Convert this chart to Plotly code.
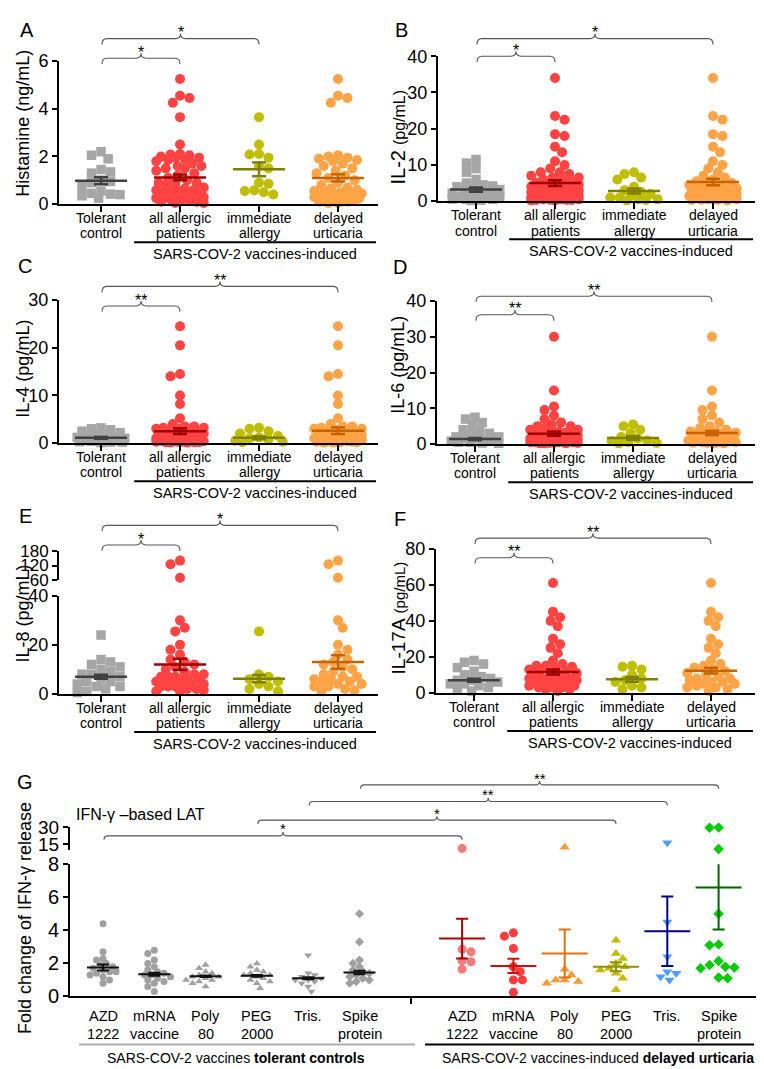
import plotly.graph_objects as go

W, H = 764, 1069
FONT = "Liberation Sans, Arial, Helvetica, sans-serif"

# ---------------- shared text ----------------
group_lines = [["Tolerant", "control"], ["all allergic", "patients"],
               ["immediate", "allergy"], ["delayed", "urticaria"]]
group_caption = "SARS-COV-2 vaccines-induced"

# ---------------- A: Histamine (ng/mL) ----------------
hist_tolerant = [2.2, 2.05, 1.9, 1.45, 1.35, 1.3, 1.0, 0.95, 0.9, 0.75, 0.55, 0.45, 0.42, 0.4, 0.35, 0.25]
hist_immediate = [3.65, 2.5, 2.1, 2.08, 1.95, 1.6, 1.5, 0.9, 0.85, 0.58, 0.55, 0.5, 0.4]
hist_delayed = [5.25, 4.55, 4.45, 4.25, 2.05, 2.0, 1.95, 1.9, 1.85, 1.8, 1.7, 1.6, 1.5, 1.4, 1.3,
                1.2, 1.1, 1.0, 0.9, 0.8, 0.7, 0.65, 0.6, 0.55, 0.5, 0.5, 0.45, 0.4, 0.4, 0.35,
                0.3, 0.3, 0.25, 0.2, 0.2, 0.15, 0.1, 0.1, 0.05, 0.05, 0.5, 0.45, 0.35, 0.3, 0.25]
hist_mean = [0.98, 1.12, 1.46, 1.10]
hist_sem = [0.15, 0.12, 0.29, 0.15]

# ---------------- B: IL-2 (pg/mL) ----------------
il2_tolerant = [11.5, 10.5, 9.0, 8.0, 6.0, 5.0, 4.5, 4.2, 4.0, 3.5, 3.2, 3.0, 2.5, 2.2, 2.0, 1.8,
                1.5, 1.2, 1.0, 1.0, 0.8, 0.6, 0.5, 0.5, 0.3, 0.2]
il2_immediate = [8.0, 7.5, 6.5, 6.0, 4.0, 3.0, 2.5, 2.0, 1.5, 1.0, 1.0, 0.5, 0.5, 0.3, 0.2]
il2_delayed = [34, 23.5, 22.5, 18.5, 18, 15, 13.5, 11, 10, 9, 8, 7, 6.5, 6, 5.5, 5, 5, 4.5, 4.5,
               4, 4, 3.5, 3.5, 3, 3, 3, 2.5, 2.5, 2.5, 2, 2, 2, 1.5, 1.5, 1.5, 1, 1, 1, 0.8,
               0.5, 0.5, 0.4, 0.3, 0.3, 0.2]
il2_mean = [3.2, 5.0, 2.8, 5.3]
il2_sem = [0.6, 0.8, 0.7, 0.9]

# ---------------- C: IL-4 (pg/mL) ----------------
il4_tolerant = [3.2, 3.0, 2.8, 2.5, 2.2, 2.0, 1.8, 1.5, 1.3, 1.2, 1.0, 0.9, 0.8, 0.6, 0.5, 0.4,
                0.3, 0.2, 0.2, 0.1]
il4_immediate = [3.2, 3.0, 2.5, 2.0, 1.5, 1.2, 1.0, 0.8, 0.5, 0.3, 0.2]
il4_delayed = [24.5, 20.5, 14.5, 14.0, 10.0, 8.2, 5.2, 4.0, 3.5, 3.5, 3.2, 3.0, 3.0, 2.8, 2.5,
               2.5, 2.2, 2.0, 2.0, 1.8, 1.5, 1.5, 1.2, 1.0, 1.0, 0.8, 0.8, 0.6, 0.5, 0.5, 0.4,
               0.3, 0.3, 0.2, 0.2, 0.1, 0.1]
il4_mean = [1.1, 2.5, 1.1, 2.6]
il4_sem = [0.2, 0.6, 0.3, 0.7]

# ---------------- D: IL-6 (pg/mL) ----------------
il6_tolerant = [7.5, 7.0, 6.0, 5.0, 4.0, 3.5, 3.0, 2.5, 2.0, 2.0, 1.5, 1.5, 1.0, 1.0, 0.8, 0.5,
                0.5, 0.3, 0.2]
il6_immediate = [5.5, 5.0, 4.0, 3.0, 2.0, 1.5, 1.0, 0.8, 0.5, 0.3, 0.2]
il6_delayed = [30, 15, 10.5, 9.5, 8.0, 7.0, 6.0, 5.0, 4.5, 4.0, 3.5, 3.5, 3.2, 3.0, 3.0, 2.8,
               2.5, 2.5, 2.2, 2.0, 2.0, 1.8, 1.5, 1.5, 1.2, 1.0, 1.0, 0.8, 0.6, 0.5, 0.5, 0.4,
               0.3, 0.2, 0.2]
il6_mean = [1.4, 2.9, 1.7, 3.1]
il6_sem = [0.3, 0.6, 0.5, 0.6]

# ---------------- E: IL-8 (pg/mL) ----------------
il8_tolerant = [24, 14, 13, 12, 11, 10, 9, 8, 8, 7, 6, 5, 5, 4, 3, 3, 2, 1, 0.5]
il8_immediate = [25.5, 8, 7, 6, 5, 4, 3, 2, 1]
il8_delayed = [140, 125, 70, 30, 27, 20, 18, 16, 14, 13, 12, 11, 10, 9, 8, 7, 7, 6, 6, 5, 5, 4,
               4, 3, 3, 2, 1.5, 1]
il8_mean = [7.0, 12.0, 6.2, 13.0]
il8_sem = [0.8, 2.3, 1.5, 2.8]

# ---------------- F: IL-17A (pg/mL) ----------------
il17_tolerant = [18, 17, 16, 14, 12, 10, 9, 8, 7, 7, 6, 5, 5, 4, 3, 2, 1]
il17_immediate = [15, 14.5, 13, 10, 8, 7, 6, 4, 3, 2]
il17_delayed = [61, 45, 42, 40, 37, 30, 27, 25, 22, 18, 16, 15, 14, 13, 12, 11, 10, 9, 8, 8, 7,
                6, 6, 5, 5, 4, 3, 3, 2, 1]
il17_mean = [7.0, 11.6, 7.5, 12.3]
il17_sem = [0.8, 1.4, 1.3, 1.6]

# ---------------- G: IFN-gamma based LAT (fold change) ----------------
lat_labels = [["AZD", "1222"], ["mRNA", "vaccine"], ["Poly", "80"], ["PEG", "2000"],
              ["Tris.", ""], ["Spike", "protein"]]
tol_azd = [4.4, 2.7, 2.3, 2.2, 2.0, 1.9, 1.8, 1.7, 1.6, 1.5, 1.5, 1.4, 1.3, 1.2, 1.0, 0.8]
tol_mrna = [2.8, 2.6, 2.2, 2.0, 1.8, 1.6, 1.5, 1.4, 1.3, 1.3, 1.2, 1.1, 1.0, 0.9, 0.8, 0.6, 0.3]
tol_poly = [1.9, 1.7, 1.5, 1.4, 1.3, 1.2, 1.2, 1.1, 1.0, 1.0, 0.9, 0.8, 0.6]
tol_peg = [2.0, 1.8, 1.6, 1.5, 1.4, 1.3, 1.3, 1.2, 1.1, 1.0, 0.9, 0.8, 0.5]
tol_tris = [2.5, 1.4, 1.3, 1.2, 1.1, 1.0, 1.0, 0.9, 0.8, 0.6, 0.3]
tol_spike = [5.0, 3.3, 2.2, 2.0, 1.8, 1.6, 1.5, 1.4, 1.3, 1.2, 1.1, 1.0, 0.9, 0.8]
urt_azd = [11, 2.85, 2.7, 2.15, 2.1, 1.65]
urt_mrna = [3.85, 3.65, 2.9, 1.8, 1.5, 1.0, 1.0, 0.25]
urt_poly = [12, 1.65, 1.3, 1.0, 1.0, 0.9, 0.8]
urt_peg = [3.4, 2.6, 2.3, 2.0, 1.8, 1.7, 1.6, 1.4, 1.1, 0.4]
urt_tris = [16, 4.5, 2.4, 1.5, 1.4, 1.2, 1.0]
urt_spike = [29.5, 29.3, 10.5, 5.0, 3.15, 3.1, 2.15, 1.9, 1.8, 1.75, 1.7, 1.15, 1.1]
lat_tol_mean = [1.75, 1.35, 1.22, 1.25, 1.1, 1.45]
lat_tol_sem = [0.18, 0.09, 0.05, 0.05, 0.06, 0.1]
lat_urt_mean = [3.5, 1.85, 2.6, 1.8, 3.95, 6.6]
lat_urt_sem = [1.2, 0.43, 1.45, 0.27, 2.1, 2.55]

# ---------------- styles ----------------
pt_colors = ["#a6a6a6", "#ff4343", "#bfbf00", "#ffa347"]
mean_colors = ["#404040", "#a00000", "#7f7f00", "#c86400"]
pt_symbols = ["square", "circle", "circle", "circle"]
urt_colors = ["#f77b7b", "#ff3b3b", "#ff9933", "#c2bc00", "#4d9fff", "#00cc00"]
urt_mean_colors = ["#b00000", "#d01010", "#e07010", "#8f8f00", "#000090", "#006400"]
lat_symbols = ["circle", "circle", "triangle-up", "triangle-up", "triangle-down", "diamond"]


def X(px):
    return px / W


def Y(py):
    return 1 - py / H


traces, shapes, annotations, layout_axes = [], [], [], {}


def text(t, x, y, size, xanchor="center", yanchor="middle", angle=0):
    annotations.append(dict(text=t, x=X(x), y=Y(y), xref="paper", yref="paper",
                            showarrow=False, xanchor=xanchor, yanchor=yanchor,
                            textangle=angle, font=dict(size=size, family=FONT, color="black")))


def hline(xa, xb, y, color="black", width=2):
    shapes.append(dict(type="line", xref="paper", yref="paper", x0=X(xa), x1=X(xb),
                       y0=Y(y), y1=Y(y), line=dict(color=color, width=width)))


def bracket(xl, xr, yb, stars, drop, peak, r, star_size, star_dy):
    xc = (xl + xr) / 2
    p = (f"M {X(xl)},{Y(yb + drop)} Q {X(xl)},{Y(yb)} {X(xl + r)},{Y(yb)} "
         f"L {X(xc - r)},{Y(yb)} Q {X(xc)},{Y(yb)} {X(xc)},{Y(yb - peak)} "
         f"Q {X(xc)},{Y(yb)} {X(xc + r)},{Y(yb)} L {X(xr - r)},{Y(yb)} "
         f"Q {X(xr)},{Y(yb)} {X(xr)},{Y(yb + drop)}")
    shapes.append(dict(type="path", xref="paper", yref="paper", path=p,
                       line=dict(color="#555555", width=1.1)))
    text(stars, xc, yb - star_dy, star_size)


def swarm(ypx, diam, maxw):
    n = len(ypx)
    order = sorted(range(n), key=lambda i: ypx[i])
    placed, offs = [], [0.0] * n
    step = diam / 4.0
    for k, i in enumerate(order):
        y = ypx[i]
        sgn = 1 if k % 2 == 0 else -1
        cands = [0.0]
        j = 1
        while j * step <= maxw:
            cands += [sgn * j * step, -sgn * j * step]
            j += 1
        chosen, best, bestd = None, None, -1
        for c in cands:
            dmin = min([((px - c) ** 2 + (py - y) ** 2) ** 0.5 for px, py in placed] or [1e9])
            if dmin >= diam * 0.92:
                chosen = c
                break
            if dmin > bestd:
                bestd, best = dmin, c
        if chosen is None:
            chosen = best
        placed.append((chosen, y))
        offs[i] = chosen
    return offs


counters = {"x": 0, "y": 0}


def ref(kind, n):
    return kind if n == 1 else f"{kind}{n}"


def make_axes(geo, ytickfont, xticks):
    counters["x"] += 1
    xi = counters["x"]
    x0, x1, c0, dc = geo["x0"], geo["x1"], geo["c0"], geo["dc"]
    yids = []
    for _ in geo["segs"]:
        counters["y"] += 1
        yids.append(counters["y"])
    layout_axes["xaxis" + ("" if xi == 1 else str(xi))] = dict(
        domain=[X(x0), X(x1)], range=[(x0 - c0) / dc, (x1 - c0) / dc], anchor=ref("y", yids[0]),
        showline=True, linewidth=2, linecolor="black", showgrid=False, zeroline=False,
        ticks="outside", ticklen=6, tickwidth=2, tickcolor="black", tickvals=xticks,
        showticklabels=False, fixedrange=True)
    for k, ((lo, hi, bot, top, tv), yi) in enumerate(zip(geo["segs"], yids)):
        layout_axes["yaxis" + ("" if yi == 1 else str(yi))] = dict(
            domain=[Y(bot), Y(top)], range=[lo, hi], anchor=ref("x", xi),
            showline=True, linewidth=2, linecolor="black", showgrid=False, zeroline=False,
            ticks="outside", ticklen=5, tickwidth=2, tickcolor="black", tickvals=tv,
            tickfont=dict(size=ytickfont if k == 0 else ytickfont - 1, family=FONT, color="black"),
            fixedrange=True)
    return ref("x", xi), [ref("y", y) for y in yids]


def seg_of(geo, v):
    for k, (lo, hi, bot, top, tv) in enumerate(geo["segs"]):
        if v <= hi:
            return k
    return len(geo["segs"]) - 1


def to_px(geo, v, k):
    lo, hi, bot, top, tv = geo["segs"][k]
    return bot - (v - lo) / (hi - lo) * (bot - top)


def add_points(geo, xr, yrs, gi, vals, color, symbol, size, diam, maxw):
    segs = [seg_of(geo, v) for v in vals]
    ypx = [to_px(geo, v, k) for v, k in zip(vals, segs)]
    offs = swarm(ypx, diam, maxw)
    for k in range(len(geo["segs"])):
        xs = [gi + o / geo["dc"] for o, s in zip(offs, segs) if s == k]
        ys = [v for v, s in zip(vals, segs) if s == k]
        if xs:
            traces.append(go.Scatter(x=xs, y=ys, xaxis=xr, yaxis=yrs[k], mode="markers",
                                     cliponaxis=False, hoverinfo="skip",
                                     marker=dict(color=color, symbol=symbol, size=size,
                                                 line=dict(width=0))))


def add_mean(geo, xr, yr, gi, m, s, color, hw, cw, width):
    h, c = hw / geo["dc"], cw / geo["dc"]
    traces.append(go.Scatter(
        x=[gi - h, gi + h, None, gi, gi, None, gi - c, gi + c, None, gi - c, gi + c],
        y=[m, m, None, m - s, m + s, None, m - s, m - s, None, m + s, m + s],
        xaxis=xr, yaxis=yr, mode="lines", hoverinfo="skip",
        line=dict(color=color, width=width)))


# ---------------- panels A-F ----------------
panels = [
    dict(letter="A", lpos=(19, 11), title="Histamine (ng/mL)", tpos=(15, 107),
         data=(hist_tolerant, hist_immediate, hist_delayed), mean=hist_mean, sem=hist_sem,
         geo=dict(x0=51, x1=370, c0=93, dc=79, segs=[(0, 6, 189, 43, [0, 2, 4, 6])]),
         br=[(0, 2, 20, "*"), (0, 1, 40, "*")]),
    dict(letter="B", lpos=(393, 11),
         title="<span style='font-size:20px'>IL-2</span> <span style='font-size:16px'>(pg/mL)</span>",
         tpos=(390, 121),
         data=(il2_tolerant, il2_immediate, il2_delayed), mean=il2_mean, sem=il2_sem,
         geo=dict(x0=430, x1=747, c0=468, dc=79, segs=[(0, 40, 186, 38, [0, 10, 20, 30, 40])]),
         br=[(0, 3, 20, "*"), (0, 1, 38, "*")]),
    dict(letter="C", lpos=(17, 252), title="IL-4 (pg/mL)", tpos=(15, 357),
         data=(il4_tolerant, il4_immediate, il4_delayed), mean=il4_mean, sem=il4_sem,
         geo=dict(x0=51, x1=370, c0=93, dc=79, segs=[(0, 30, 433, 287, [0, 10, 20, 30])]),
         br=[(0, 3, 273, "**"), (0, 1, 293, "**")]),
    dict(letter="D", lpos=(392, 253), title="IL-6 (pg/mL)", tpos=(390, 353),
         data=(il6_tolerant, il6_immediate, il6_delayed), mean=il6_mean, sem=il6_sem,
         geo=dict(x0=429, x1=747, c0=467, dc=79, segs=[(0, 40, 434, 288, [0, 10, 20, 30, 40])]),
         br=[(0, 3, 283, "**"), (0, 1, 302, "**")]),
    dict(letter="E", lpos=(17, 507), title="IL-8 (pg/mL)", tpos=(15, 607),
         data=(il8_tolerant, il8_immediate, il8_delayed), mean=il8_mean, sem=il8_sem,
         geo=dict(x0=51, x1=370, c0=93, dc=79,
                  segs=[(0, 40, 689, 589, [0, 20, 40]), (60, 180, 573, 543, [60, 120, 180])]),
         br=[(0, 3, 517, "*"), (0, 1, 537, "*")]),
    dict(letter="F", lpos=(392, 510),
         title="<span style='font-size:19px'>IL-17A</span> <span style='font-size:15px'>(pg/mL)</span>",
         tpos=(390, 612),
         data=(il17_tolerant, il17_immediate, il17_delayed), mean=il17_mean, sem=il17_sem,
         geo=dict(x0=428, x1=747, c0=466, dc=79, segs=[(0, 80, 688, 541, [0, 20, 40, 60, 80])]),
         br=[(0, 3, 530, "**"), (0, 1, 550, "**")]),
]

for p in panels:
    g = p["geo"]
    xr, yrs = make_axes(g, 18, [0, 1, 2, 3])
    tol, imm, dly = p["data"]
    groups = [(0, tol), (1, imm + dly), (2, imm), (3, dly)]
    for gi, vals in groups:
        add_points(g, xr, yrs, gi, vals, pt_colors[gi], pt_symbols[gi],
                   9.5 if gi == 0 else 10, 9.5, 26)
    for gi, vals in groups:
        add_mean(g, xr, yrs[0], gi, p["mean"][gi], p["sem"][gi], mean_colors[gi], 26, 7, 2.5)
    axis_y = g["segs"][0][2]
    text(p["letter"], p["lpos"][0], p["lpos"][1], 20)
    text(p["title"], p["tpos"][0], p["tpos"][1], 18, angle=-90)
    for i, (l1, l2) in enumerate(group_lines):
        cx = g["c0"] + i * g["dc"]
        text(l1, cx, axis_y + 14, 14)
        text(l2, cx, axis_y + 30, 14)
    ux0 = g["c0"] + 0.42 * g["dc"]
    ux1 = g["x1"] - 2
    hline(ux0, ux1, axis_y + 39)
    text(group_caption, (ux0 + ux1) / 2, axis_y + 51, 14.5)
    for a, b, yb, st in p["br"]:
        bracket(g["c0"] + a * g["dc"] + 1, g["c0"] + b * g["dc"], yb, st,
                drop=6, peak=5, r=5, star_size=16, star_dy=6)

# ---------------- panel G ----------------
geoG = dict(x0=62, x1=748, c0=95, dc=51.3,
            segs=[(0, 8, 998, 863, [0, 2, 4, 6, 8]), (10, 30, 848, 825, [15, 30])])
xG, yG = make_axes(geoG, 20, [6])
tol_sets = [tol_azd, tol_mrna, tol_poly, tol_peg, tol_tris, tol_spike]
urt_sets = [urt_azd, urt_mrna, urt_poly, urt_peg, urt_tris, urt_spike]
for i, vals in enumerate(tol_sets):
    add_points(geoG, xG, yG, i, vals, "#a0a0a0", lat_symbols[i], 7, 6.5, 20)
for i, vals in enumerate(urt_sets):
    add_points(geoG, xG, yG, 7 + i, vals, urt_colors[i], lat_symbols[i],
               8 if lat_symbols[i] == "diamond" else 9, 9, 20)
for i in range(6):
    add_mean(geoG, xG, yG[0], i, lat_tol_mean[i], lat_tol_sem[i], "#111111", 16, 6, 2)
    add_mean(geoG, xG, yG[0], 7 + i, lat_urt_mean[i], lat_urt_sem[i], urt_mean_colors[i], 23, 6, 2)

text("G", 17, 779, 20)
text("Fold change of IFN-γ release", 17, 918, 18, angle=-90)
text("IFN-γ –based LAT", 66, 812, 16, xanchor="left")
for i, (l1, l2) in enumerate(lat_labels):
    for base in (0, 7):
        cx = geoG["c0"] + (base + i) * geoG["dc"]
        text(l1, cx, 1018, 14.5)
        if l2:
            text(l2, cx, 1036, 14.5)
hline(71, 407, 1047, color="#b0b0b0", width=2)
hline(417, 746, 1047, color="black", width=2)
text("SARS-COV-2 vaccines <b>tolerant controls</b>", 228, 1061, 14)
text("SARS-COV-2 vaccines-induced <b>delayed urticaria</b>", 590, 1061, 14)
for a, b, yb, st in [(0, 7, 834, "*"), (3, 10, 818, "*"), (4, 11, 799, "**"), (5, 12, 782, "**")]:
    bracket(geoG["c0"] + a * geoG["dc"] + 1, geoG["c0"] + b * geoG["dc"], yb, st,
            drop=4, peak=4, r=4, star_size=15, star_dy=7)

fig = go.Figure(data=traces)
fig.update_layout(width=W, height=H, margin=dict(l=0, r=0, t=0, b=0),
                  paper_bgcolor="white", plot_bgcolor="rgba(0,0,0,0)", showlegend=False,
                  font=dict(family=FONT, color="black"), shapes=shapes, annotations=annotations,
                  **layout_axes)
fig.write_html("out.html")
